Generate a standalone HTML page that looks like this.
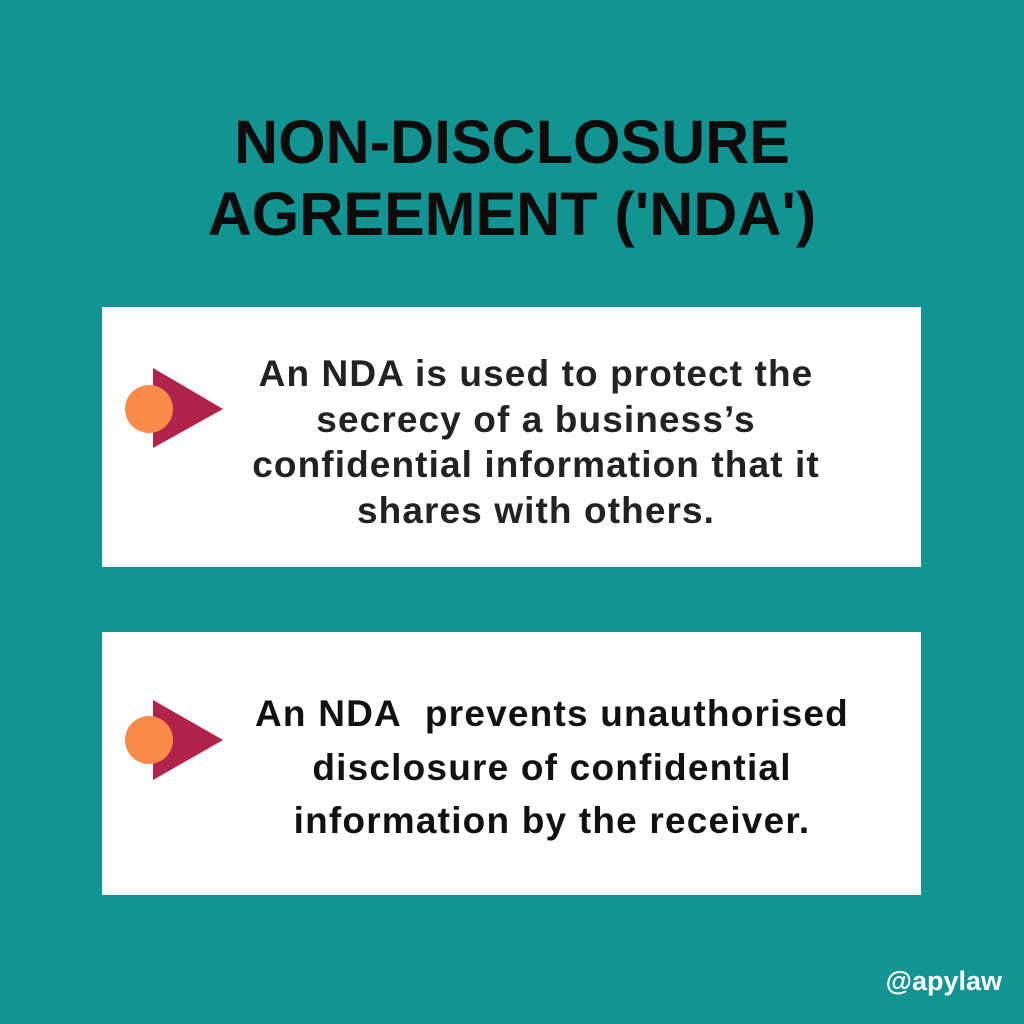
<!DOCTYPE html>
<html><head><style>
body{margin:0;width:1024px;height:1024px;background:#129592;position:relative;overflow:hidden;font-family:"Liberation Sans",sans-serif;}
.t{position:absolute;left:0;width:1024px;text-align:center;font-weight:bold;color:#0b0b0b;font-size:61px;line-height:72px;top:106px;}
.box{position:absolute;left:102px;width:819px;background:#fff;}
.txt{position:absolute;text-align:center;font-weight:bold;color:#222;white-space:nowrap;}
.h{position:absolute;right:22px;top:966px;color:#fff;font-weight:bold;font-size:27px;}
</style></head><body>
<div class="t">NON-DISCLOSURE<br>AGREEMENT ('NDA')</div>
<div class="box" style="top:307px;height:260px"></div>
<div class="box" style="top:632px;height:263px"></div>
<svg style="position:absolute;left:0;top:0" width="1024" height="1024">
<polygon points="153,368 223,409 153,448" fill="#b0234a"/>
<circle cx="149" cy="409" r="24" fill="#fb8b4a"/>
<polygon points="153,700 223,740 153,780" fill="#b0234a"/>
<circle cx="149" cy="740" r="24" fill="#fb8b4a"/>
</svg>
<div class="txt" style="left:216px;width:640px;top:351px;font-size:37px;line-height:45.5px;letter-spacing:1.1px">An NDA is used to protect the<br>secrecy of a business’s<br>confidential information that it<br>shares with others.</div>
<div class="txt" style="left:232px;width:640px;top:687px;font-size:37px;line-height:53.5px;color:#111;letter-spacing:1.2px">An NDA&nbsp; prevents unauthorised<br>disclosure of confidential<br>information by the receiver.</div>
<div class="h">@apylaw</div>
</body></html>
